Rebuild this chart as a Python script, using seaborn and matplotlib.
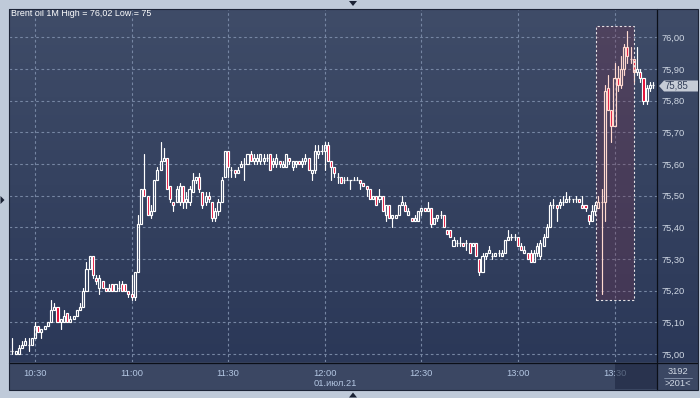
import numpy as np
import pandas as pd
import matplotlib
matplotlib.use("Agg")
import matplotlib.pyplot as plt
import seaborn as sns
from matplotlib.patches import Rectangle, Polygon
from matplotlib.lines import Line2D
from matplotlib.colors import LinearSegmentedColormap

# ---------------- data (1-minute candles, minutes relative to 10:30) ----------------
minutes = list(range(-8, 193))

open_ = [
    75.01, 75.01, 75.00, 75.00, 75.02, 75.03, 75.03, 75.03, 75.05, 75.09,
    75.07, 75.08, 75.09, 75.10, 75.14, 75.15, 75.10, 75.10, 75.13, 75.10,
    75.11, 75.12, 75.14, 75.15, 75.20, 75.27, 75.31, 75.24, 75.21, 75.23,
    75.21, 75.20, 75.22, 75.20, 75.21, 75.22, 75.22, 75.20, 75.19, 75.18,
    75.26, 75.41, 75.52, 75.50, 75.44, 75.45, 75.55, 75.58, 75.61, 75.62,
    75.53, 75.48, 75.48, 75.48, 75.53, 75.48, 75.48, 75.51, 75.55, 75.56,
    75.51, 75.48, 75.50, 75.48, 75.43, 75.45, 75.48, 75.56, 75.64, 75.58,
    75.58, 75.57, 75.59, 75.60, 75.60, 75.63, 75.61, 75.61, 75.61, 75.61,
    75.62, 75.63, 75.60, 75.60, 75.61, 75.59, 75.59, 75.62, 75.59, 75.60,
    75.61, 75.60, 75.61, 75.62, 75.57, 75.58, 75.63, 75.64, 75.64, 75.66,
    75.61, 75.59, 75.56, 75.56, 75.55, 75.55, 75.55, 75.55, 75.55, 75.55,
    75.54, 75.53, 75.52, 75.49, 75.50, 75.49, 75.50, 75.44, 75.47, 75.43,
    75.43, 75.44, 75.47, 75.47, 75.44, 75.43, 75.42, 75.42, 75.45, 75.46,
    75.45, 75.46, 75.41, 75.43, 75.44, 75.44, 75.39, 75.39, 75.34, 75.35,
    75.35, 75.35, 75.35, 75.35, 75.34, 75.35, 75.30, 75.26, 75.31, 75.32,
    75.31, 75.31, 75.32, 75.31, 75.32, 75.36, 75.37, 75.37, 75.37, 75.34,
    75.32, 75.32, 75.32, 75.29, 75.32, 75.31, 75.34, 75.37, 75.40, 75.47,
    75.47, 75.47, 75.48, 75.48, 75.49, 75.49, 75.49, 75.49, 75.47, 75.47,
    75.44, 75.42, 75.45, 75.46, 75.48, 75.48, 75.84, 75.77, 75.72, 75.87,
    75.85, 75.90, 75.97, 75.93, 75.93, 75.89, 75.89, 75.87, 75.80, 75.84,
    75.85,
]
high = [
    75.02, 75.05, 75.01, 75.03, 75.04, 75.05, 75.05, 75.05, 75.10, 75.09,
    75.08, 75.09, 75.10, 75.17, 75.16, 75.15, 75.11, 75.14, 75.13, 75.12,
    75.12, 75.14, 75.16, 75.21, 75.29, 75.31, 75.31, 75.25, 75.25, 75.23,
    75.21, 75.22, 75.22, 75.22, 75.23, 75.23, 75.22, 75.20, 75.25, 75.26,
    75.44, 75.52, 75.63, 75.50, 75.47, 75.55, 75.59, 75.67, 75.65, 75.62,
    75.53, 75.48, 75.53, 75.54, 75.53, 75.51, 75.53, 75.57, 75.56, 75.57,
    75.51, 75.51, 75.51, 75.48, 75.46, 75.49, 75.56, 75.64, 75.64, 75.59,
    75.58, 75.59, 75.61, 75.62, 75.63, 75.64, 75.63, 75.63, 75.63, 75.63,
    75.63, 75.63, 75.62, 75.63, 75.61, 75.61, 75.63, 75.62, 75.61, 75.61,
    75.61, 75.62, 75.63, 75.62, 75.58, 75.66, 75.66, 75.66, 75.67, 75.67,
    75.61, 75.59, 75.57, 75.56, 75.56, 75.56, 75.55, 75.56, 75.56, 75.55,
    75.54, 75.53, 75.52, 75.50, 75.50, 75.52, 75.50, 75.47, 75.47, 75.44,
    75.44, 75.47, 75.50, 75.48, 75.46, 75.43, 75.44, 75.45, 75.46, 75.46,
    75.48, 75.46, 75.43, 75.44, 75.45, 75.44, 75.39, 75.39, 75.37, 75.36,
    75.37, 75.35, 75.36, 75.35, 75.35, 75.35, 75.30, 75.32, 75.32, 75.34,
    75.32, 75.32, 75.33, 75.33, 75.36, 75.39, 75.38, 75.38, 75.37, 75.35,
    75.34, 75.32, 75.33, 75.33, 75.35, 75.36, 75.38, 75.41, 75.48, 75.49,
    75.47, 75.49, 75.50, 75.51, 75.50, 75.49, 75.50, 75.49, 75.50, 75.47,
    75.44, 75.47, 75.48, 75.50, 75.52, 75.85, 75.88, 75.77, 75.92, 75.91,
    75.94, 75.98, 76.02, 75.97, 75.93, 75.97, 75.90, 75.87, 75.85, 75.86,
    75.86,
]
low = [
    75.00, 75.00, 75.00, 75.00, 75.02, 75.03, 75.01, 75.03, 75.05, 75.07,
    75.05, 75.08, 75.09, 75.10, 75.14, 75.10, 75.08, 75.10, 75.10, 75.10,
    75.11, 75.12, 75.14, 75.15, 75.20, 75.27, 75.24, 75.22, 75.19, 75.21,
    75.20, 75.20, 75.20, 75.20, 75.20, 75.20, 75.20, 75.18, 75.17, 75.17,
    75.26, 75.41, 75.50, 75.44, 75.43, 75.45, 75.55, 75.58, 75.61, 75.52,
    75.48, 75.45, 75.48, 75.47, 75.46, 75.46, 75.47, 75.51, 75.54, 75.51,
    75.46, 75.47, 75.48, 75.42, 75.42, 75.44, 75.48, 75.56, 75.56, 75.56,
    75.56, 75.57, 75.59, 75.55, 75.60, 75.61, 75.60, 75.60, 75.60, 75.60,
    75.61, 75.58, 75.59, 75.59, 75.59, 75.59, 75.59, 75.60, 75.58, 75.59,
    75.60, 75.59, 75.60, 75.58, 75.55, 75.57, 75.62, 75.63, 75.58, 75.61,
    75.55, 75.56, 75.54, 75.54, 75.54, 75.55, 75.52, 75.55, 75.55, 75.52,
    75.53, 75.50, 75.49, 75.49, 75.47, 75.48, 75.45, 75.42, 75.43, 75.40,
    75.43, 75.44, 75.47, 75.45, 75.44, 75.42, 75.42, 75.42, 75.44, 75.45,
    75.45, 75.40, 75.41, 75.42, 75.43, 75.40, 75.38, 75.37, 75.34, 75.34,
    75.34, 75.34, 75.33, 75.32, 75.34, 75.31, 75.25, 75.26, 75.30, 75.32,
    75.30, 75.31, 75.31, 75.31, 75.32, 75.36, 75.36, 75.36, 75.34, 75.33,
    75.32, 75.30, 75.29, 75.29, 75.31, 75.30, 75.34, 75.37, 75.40, 75.46,
    75.42, 75.46, 75.47, 75.48, 75.48, 75.48, 75.48, 75.48, 75.46, 75.45,
    75.41, 75.42, 75.44, 75.46, 75.19, 75.42, 75.77, 75.67, 75.72, 75.83,
    75.84, 75.88, 75.92, 75.92, 75.86, 75.88, 75.86, 75.79, 75.79, 75.83,
    75.84,
]
close = [
    75.01, 75.01, 75.01, 75.02, 75.03, 75.04, 75.03, 75.05, 75.09, 75.07,
    75.08, 75.09, 75.10, 75.14, 75.15, 75.10, 75.11, 75.12, 75.10, 75.11,
    75.12, 75.14, 75.15, 75.20, 75.27, 75.31, 75.25, 75.23, 75.24, 75.21,
    75.20, 75.21, 75.20, 75.22, 75.21, 75.20, 75.20, 75.19, 75.18, 75.26,
    75.41, 75.52, 75.50, 75.44, 75.45, 75.55, 75.58, 75.61, 75.62, 75.52,
    75.49, 75.47, 75.52, 75.53, 75.48, 75.49, 75.52, 75.55, 75.56, 75.52,
    75.47, 75.50, 75.49, 75.43, 75.45, 75.48, 75.55, 75.64, 75.59, 75.58,
    75.57, 75.58, 75.60, 75.60, 75.63, 75.61, 75.62, 75.62, 75.63, 75.62,
    75.62, 75.58, 75.61, 75.62, 75.60, 75.60, 75.63, 75.61, 75.61, 75.61,
    75.60, 75.61, 75.62, 75.58, 75.58, 75.64, 75.64, 75.64, 75.66, 75.61,
    75.59, 75.57, 75.56, 75.54, 75.55, 75.55, 75.55, 75.55, 75.55, 75.54,
    75.53, 75.52, 75.49, 75.50, 75.47, 75.50, 75.45, 75.47, 75.43, 75.44,
    75.44, 75.47, 75.48, 75.45, 75.45, 75.42, 75.43, 75.45, 75.46, 75.45,
    75.46, 75.41, 75.43, 75.44, 75.44, 75.40, 75.38, 75.37, 75.36, 75.35,
    75.35, 75.34, 75.35, 75.32, 75.35, 75.31, 75.26, 75.31, 75.32, 75.33,
    75.31, 75.32, 75.32, 75.32, 75.36, 75.37, 75.37, 75.37, 75.34, 75.33,
    75.33, 75.30, 75.29, 75.32, 75.34, 75.35, 75.37, 75.40, 75.47, 75.47,
    75.46, 75.48, 75.48, 75.49, 75.49, 75.49, 75.49, 75.48, 75.46, 75.46,
    75.42, 75.45, 75.47, 75.48, 75.48, 75.83, 75.77, 75.72, 75.87, 75.85,
    75.90, 75.97, 75.94, 75.93, 75.89, 75.90, 75.87, 75.80, 75.84, 75.85,
    75.85,
]

tick_minutes = [0, 30, 60, 90, 120, 150, 180]
tick_labels = ["10:30", "11:00", "11:30", "12:00", "12:30", "13:00", "13:30"]
price_ticks = [75.0, 75.1, 75.2, 75.3, 75.4, 75.5, 75.6, 75.7, 75.8, 75.9, 76.0]
price_labels = ["75,00", "75,10", "75,20", "75,30", "75,40", "75,50",
                "75,60", "75,70", "75,80", "75,90", "76,00"]
title = "Brent oil 1M High = 76,02 Low = 75"
date_label = "01.июл.21"
last_price_label = "75,85"
counter_top = "3192"
counter_bottom = ">201<"
# highlighted selection (minutes / prices)
sel_start, sel_end = 174.3, 186.1
sel_low, sel_high = 75.171, 76.036

# ---------------- styling ----------------
W, H = 700, 398
sns.set_theme(style="dark")
plt.rcParams["font.family"] = ["Liberation Sans", "DejaVu Sans"]

fig = plt.figure(figsize=(W / 100, H / 100), dpi=100, facecolor="#bfcad9")


def fx(px):
    return px / W


def fy(py):
    return 1 - py / H


def box(x0, y0, x1, y1):
    return [fx(x0), fy(y1), fx(x1) - fx(x0), fy(y0) - fy(y1)]


# gradient background (plot + right price panel)
gax = fig.add_axes(box(9, 9, 698, 362), zorder=0)
grad = np.linspace(0, 1, 256).reshape(-1, 1)
cmap = LinearSegmentedColormap.from_list("bg", ["#3f4c68", "#2b3858"])
gax.imshow(grad, aspect="auto", cmap=cmap, extent=[0, 1, 0, 1], origin="upper")
gax.set_axis_off()

# bottom time band
fig.add_artist(Rectangle((fx(9), fy(390)), fx(698) - fx(9), fy(362) - fy(390),
                         transform=fig.transFigure, facecolor="#3b4763",
                         edgecolor="none", zorder=0.5))

ax = fig.add_axes(box(9, 9, 657, 362), zorder=1)
ax.patch.set_visible(False)
ax.set_xlim(-8.07, 193.2)
ax.set_ylim(74.975, 76.089)
for s in ax.spines.values():
    s.set_visible(False)

ax.set_xticks(tick_minutes, labels=tick_labels)
ax.set_yticks(price_ticks, labels=price_labels)
ax.yaxis.tick_right()
ax.grid(True, color="#7686a3", linestyle=(0, (2.4, 2.4)), linewidth=0.8)
ax.tick_params(axis="x", length=0, pad=5, labelsize=6.7, labelcolor="#b3c6e2")
ax.tick_params(axis="y", length=0, pad=3.5, labelsize=6.7, labelcolor="#d0d8e4")

# ---------------- candles ----------------
df = pd.DataFrame({"minute": minutes, "open": open_, "high": high,
                   "low": low, "close": close})
df["top"] = df[["open", "close"]].max(axis=1)
df["bot"] = df[["open", "close"]].min(axis=1)
df["sel"] = df["minute"].between(sel_start, sel_end)
df["down"] = df["close"] < df["open"]

pink = "#ffd9cf"
upper = pd.concat([df.assign(y=df["top"]), df.assign(y=df["high"])])
upper["unit"] = upper["minute"].astype(str) + "u"
lower = pd.concat([df.assign(y=df["low"]), df.assign(y=df["bot"])])
lower["unit"] = lower["minute"].astype(str) + "l"
wicks = pd.concat([upper, lower], ignore_index=True)

# selection box fill + dashed border
ax.add_patch(Rectangle((sel_start, sel_low), sel_end - sel_start, sel_high - sel_low,
                       facecolor="#73324d", alpha=0.32, edgecolor="none", zorder=1))
ax.add_patch(Rectangle((sel_start, sel_low), sel_end - sel_start, sel_high - sel_low,
                       fill=False, edgecolor="#e6e2e6", linewidth=0.8,
                       linestyle=(0, (2, 2)), zorder=4))

sns.lineplot(data=wicks, x="minute", y="y", units="unit", estimator=None,
             hue="sel", palette={False: "white", True: pink}, legend=False,
             linewidth=0.85, sort=False, ax=ax, zorder=2)
ax.set_xlabel("")
ax.set_ylabel("")

face = ["#e4002b" if d else "none" for d in df["down"]]
edge = [pink if s else "white" for s in df["sel"]]
ax.bar(df["minute"], df["top"] - df["bot"], bottom=df["bot"], width=0.64,
       color=face, edgecolor=edge, linewidth=0.85, zorder=3)

# ---------------- frame, texts ----------------
dark = "#0b0f18"
fig.add_artist(Line2D([fx(657), fx(657)], [fy(9), fy(390)], color=dark, lw=0.9, zorder=6))
fig.add_artist(Line2D([fx(9), fx(698)], [fy(362.5), fy(362.5)], color=dark, lw=0.9, zorder=6))
fig.add_artist(Rectangle((fx(8.5), fy(390)), fx(698) - fx(8.5), fy(8.5) - fy(390),
                         transform=fig.transFigure, fill=False, edgecolor="#1c2436",
                         lw=0.8, zorder=6))

fig.text(fx(11), fy(13.5), title, color="white", fontsize=6.4, ha="left", va="center")
fig.text(fx(335), fy(383), date_label, color="#b3c6e2", fontsize=6.7, ha="center", va="center")

# darker time band under selection
fig.add_artist(Rectangle((fx(615), fy(389)), fx(656.5) - fx(615), fy(363) - fy(389),
                         transform=fig.transFigure, facecolor="#1d2740", alpha=0.6,
                         edgecolor="none", zorder=5))

# counters in the bottom-right cell
fig.text(fx(678), fy(371), counter_top, color="#d0d8e4", fontsize=6.7, ha="center", va="center")
fig.text(fx(678), fy(384), counter_bottom, color="#d0d8e4", fontsize=6.7, ha="center", va="center")
fig.add_artist(Line2D([fx(664), fx(692)], [fy(377.5), fy(377.5)], color="#8a98b0", lw=0.6, zorder=6))

# last price marker
pts = [(659, 86), (664, 80.5), (698, 80.5), (698, 91.5), (664, 91.5)]
fig.add_artist(Polygon([(fx(x), fy(y)) for x, y in pts], closed=True,
                       transform=fig.transFigure, facecolor="#c6ccd6",
                       edgecolor="none", zorder=6))
fig.text(fx(664), fy(86), last_price_label, color="#34405a", fontsize=6.9,
         ha="left", va="center", zorder=7)

# small navigation triangles
tri_col = "#1a2234"
for tri in ([(349, 1), (357, 1), (353, 6)],
            [(349, 397.5), (357, 397.5), (353, 392.5)],
            [(0.5, 196), (0.5, 204), (4.5, 200)]):
    fig.add_artist(Polygon([(fx(x), fy(y)) for x, y in tri], closed=True,
                           transform=fig.transFigure, facecolor=tri_col,
                           edgecolor="none", zorder=6))

fig.savefig("out.png", dpi=100, facecolor=fig.get_facecolor())
